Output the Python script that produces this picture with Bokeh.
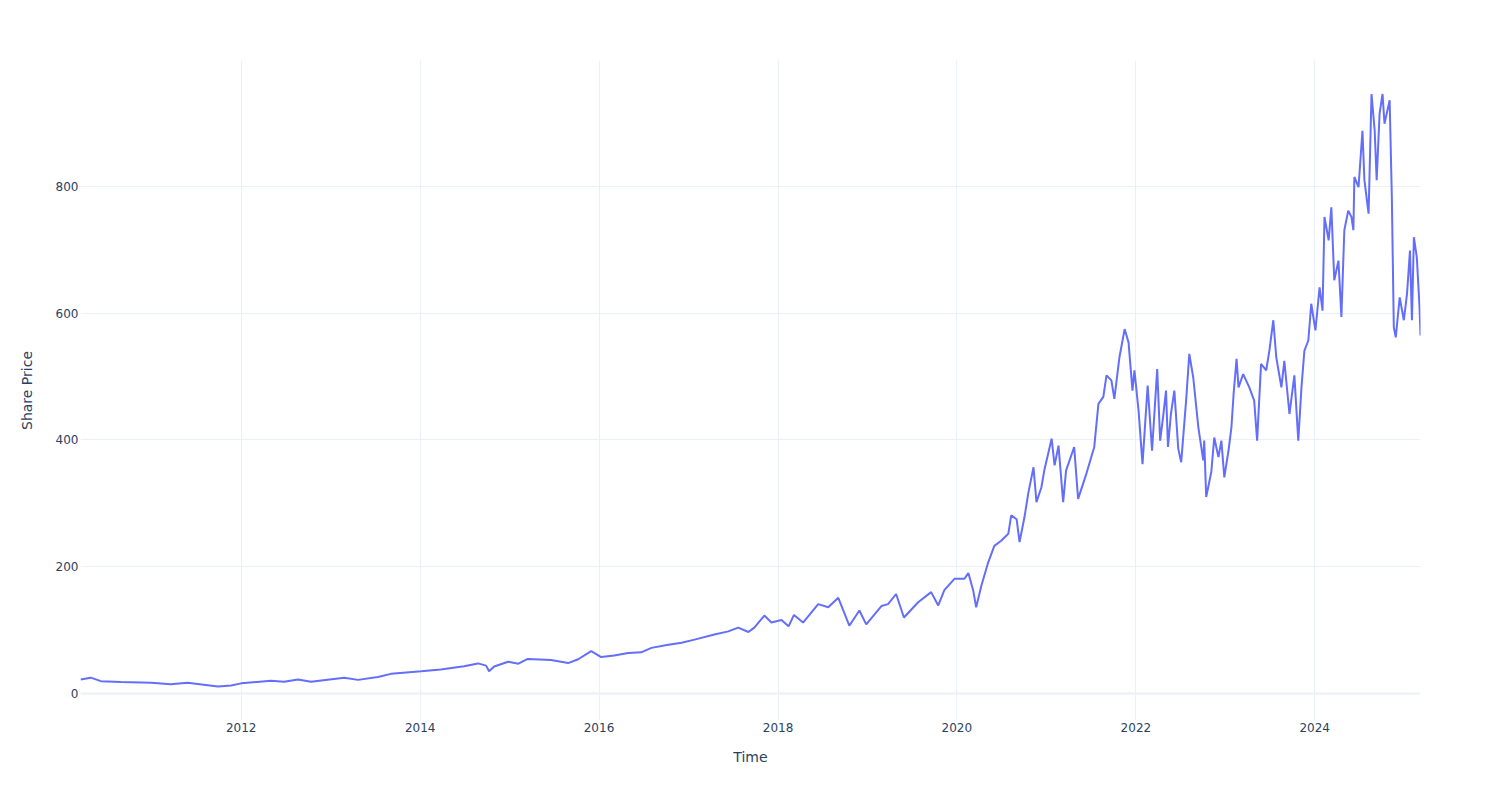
import pandas as pd
from bokeh.plotting import figure
from bokeh.models import FixedTicker, DatetimeTickFormatter, Span, Range1d, ColumnDataSource
from bokeh.embed import file_html
from bokeh.resources import INLINE

dates = [
    "2010-03-16", "2010-04-27", "2010-06-07", "2010-08-28", "2010-12-30", "2011-03-19", "2011-05-27",
    "2011-09-28", "2011-11-21", "2012-01-01", "2012-05-01", "2012-06-24", "2012-08-20", "2012-10-12",
    "2013-02-25", "2013-04-22", "2013-07-12", "2013-09-04", "2014-01-05", "2014-03-26", "2014-06-29",
    "2014-08-25", "2014-09-27", "2014-10-09", "2014-10-30", "2014-12-26", "2015-02-06", "2015-03-16",
    "2015-06-19", "2015-08-28", "2015-10-08", "2015-11-30", "2016-01-10", "2016-03-03", "2016-04-29",
    "2016-06-21", "2016-08-02", "2016-10-10", "2016-12-03", "2017-01-25", "2017-04-16", "2017-06-12",
    "2017-07-22", "2017-09-02", "2017-09-26", "2017-11-06", "2017-12-05", "2018-01-15", "2018-02-13",
    "2018-03-07", "2018-04-13", "2018-06-14", "2018-07-25", "2018-09-04", "2018-10-19", "2018-11-29",
    "2018-12-27", "2019-02-27", "2019-03-26", "2019-04-28", "2019-05-30", "2019-07-27", "2019-09-18",
    "2019-10-17", "2019-11-11", "2019-12-22", "2020-02-01", "2020-02-17", "2020-03-08", "2020-03-20",
    "2020-04-10", "2020-05-08", "2020-06-02", "2020-06-30", "2020-07-29", "2020-08-10", "2020-09-01",
    "2020-09-13", "2020-10-03", "2020-10-19", "2020-11-09", "2020-11-21", "2020-12-11", "2020-12-24",
    "2021-01-22", "2021-02-03", "2021-02-19", "2021-03-10", "2021-03-22", "2021-04-24", "2021-05-10",
    "2021-06-13", "2021-07-15", "2021-08-01", "2021-08-21", "2021-09-03", "2021-09-23", "2021-10-05",
    "2021-10-26", "2021-11-16", "2021-12-02", "2021-12-18", "2021-12-26", "2022-01-12", "2022-01-28",
    "2022-02-18", "2022-03-08", "2022-03-29", "2022-04-10", "2022-04-22", "2022-05-04", "2022-05-12",
    "2022-05-24", "2022-06-07", "2022-06-23", "2022-07-05", "2022-07-25", "2022-08-07", "2022-08-23",
    "2022-09-13", "2022-10-03", "2022-10-07", "2022-10-15", "2022-11-05", "2022-11-17", "2022-12-04",
    "2022-12-16", "2022-12-28", "2023-01-14", "2023-01-26", "2023-02-04", "2023-02-16", "2023-02-24",
    "2023-03-15", "2023-04-09", "2023-04-29", "2023-05-11", "2023-05-27", "2023-06-17", "2023-06-30",
    "2023-07-16", "2023-07-28", "2023-08-18", "2023-08-30", "2023-09-20", "2023-10-10", "2023-10-26",
    "2023-11-08", "2023-11-20", "2023-12-06", "2023-12-18", "2024-01-04", "2024-01-21", "2024-02-02",
    "2024-02-10", "2024-02-27", "2024-03-09", "2024-03-21", "2024-04-07", "2024-04-19", "2024-05-01",
    "2024-05-17", "2024-05-30", "2024-06-07", "2024-06-11", "2024-06-28", "2024-07-14", "2024-07-22",
    "2024-08-08", "2024-08-20", "2024-09-02", "2024-09-10", "2024-09-22", "2024-10-04", "2024-10-12",
    "2024-11-02", "2024-11-11", "2024-11-19", "2024-11-27", "2024-12-13", "2024-12-30", "2025-01-12",
    "2025-01-24", "2025-02-01", "2025-02-09", "2025-02-21", "2025-03-04", "2025-03-08",
]

prices = [
    22, 25, 19.5, 18, 17, 14.5, 17,
    11, 12.5, 16, 20, 18.5, 22, 18.5,
    25, 21.5, 26, 31, 35, 38, 43,
    47.5, 44, 35, 42.5, 50, 47, 54.5,
    53, 48, 54, 67, 57.5, 60, 64,
    65, 72, 77, 80, 85, 93, 98,
    104, 97, 104, 123, 112, 116, 106,
    124, 112, 141, 136, 151, 107, 131,
    109, 138, 141, 157, 120, 144, 160,
    139, 163, 181, 181, 190, 162, 136,
    170, 207, 233, 241, 252, 281, 275,
    239, 278, 317, 357, 302, 325, 354,
    402, 360, 391, 302, 352, 389, 307,
    347, 389, 457, 468, 502, 494, 465,
    531, 575, 554, 478, 510, 446, 362,
    486, 383, 512, 399, 436, 478, 389,
    441, 478, 386, 365, 462, 536, 499,
    420, 368, 399, 310, 350, 404, 373,
    399, 341, 383, 420, 473, 528, 483,
    504, 483, 462, 399, 520, 510, 541,
    589, 531, 483, 525, 441, 502, 399,
    483, 541, 557, 615, 573, 641, 604,
    752, 715, 767, 652, 683, 594, 731,
    762, 752, 731, 815, 799, 888, 810,
    757, 946, 888, 810, 915, 946, 899,
    936, 783, 578, 562, 625, 589, 631,
    699, 589, 720, 688, 610, 565,
]

x_tick_years = [2012, 2014, 2016, 2018, 2020, 2022, 2024]
y_ticks = [0, 200, 400, 600, 800]

FONT = "DejaVu Sans"
TEXT = "#2a3f5f"
GRID = "#EBF0F8"

dt = pd.to_datetime(dates)
src = ColumnDataSource(dict(x=dt, y=prices))

p = figure(width=1500, height=800, x_axis_type="datetime", output_backend="svg",
           toolbar_location=None, min_border_left=80, min_border_right=80,
           min_border_top=60, min_border_bottom=80,
           x_range=Range1d(dt[0], dt[-1]), y_range=Range1d(-42.6, 998.8))
p.outline_line_color = None
p.background_fill_color = "white"
p.border_fill_color = "white"

p.line("x", "y", source=src, line_color="#636efa", line_width=2)

tick_ms = [pd.Timestamp(f"{y}-01-01").value / 1e6 for y in x_tick_years]
p.xaxis.ticker = FixedTicker(ticks=tick_ms)
p.xaxis.formatter = DatetimeTickFormatter(years="%Y", months="%Y", days="%Y", hours="%Y")
p.yaxis.ticker = FixedTicker(ticks=y_ticks)

for ax in (p.xaxis, p.yaxis):
    ax.axis_line_color = None
    ax.major_tick_line_color = None
    ax.minor_tick_line_color = None
    ax.major_tick_out = 0
    ax.major_tick_in = 0
    ax.minor_tick_out = 0
    ax.minor_tick_in = 0
    ax.major_label_text_font = FONT
    ax.major_label_text_font_size = "12px"
    ax.major_label_text_color = TEXT
    ax.axis_label_text_font = FONT
    ax.axis_label_text_font_size = "14px"
    ax.axis_label_text_color = TEXT
    ax.axis_label_text_font_style = "normal"

p.xaxis.axis_label = "Time"
p.yaxis.axis_label = "Share Price"
p.xaxis.major_label_standoff = 2
p.xaxis.axis_label_standoff = 14
p.yaxis.major_label_standoff = 2
p.yaxis.axis_label_standoff = 18

p.xgrid.grid_line_color = GRID
p.ygrid.grid_line_color = GRID
p.xgrid.grid_line_width = 1
p.ygrid.grid_line_width = 1

zero = Span(location=0, dimension="width", line_color=GRID, line_width=2, level="underlay")
p.add_layout(zero)

open("out.html", "w").write(file_html(p, INLINE))
